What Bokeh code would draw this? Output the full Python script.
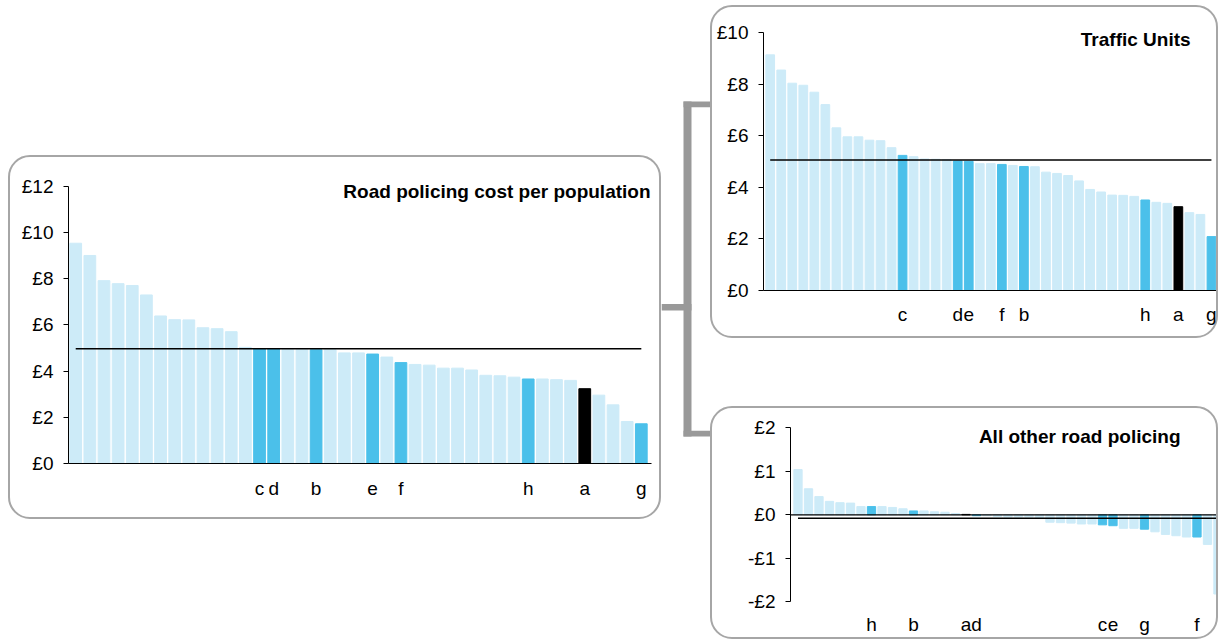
from bokeh.plotting import figure
from bokeh.models import ColumnDataSource, Range1d, FixedTicker, Label, Span
from bokeh.layouts import row, column
from bokeh.embed import file_html
from bokeh.resources import INLINE
from bokeh.core.properties import value

# ---------------- data ----------------
bar_index = list(range(1, 42))

cost_title = "Road policing cost per population"
cost_values = [9.54, 9.01, 7.92, 7.79, 7.71, 7.30, 6.39, 6.23, 6.22, 5.88,
               5.84, 5.71, 5.03, 4.96, 4.96, 4.93, 4.93, 4.93, 4.93, 4.79,
               4.79, 4.74, 4.61, 4.37, 4.29, 4.26, 4.13, 4.13, 4.05, 3.82,
               3.80, 3.74, 3.66, 3.66, 3.63, 3.60, 3.24, 2.96, 2.54, 1.82,
               1.72]
cost_labels = ["", "", "", "", "", "", "", "", "", "",
               "", "", "", "c", "d", "", "", "b", "", "",
               "", "e", "", "f", "", "", "", "", "", "",
               "", "", "h", "", "", "", "a", "", "", "",
               "g"]
cost_average = 4.97
cost_ticks = [0, 2, 4, 6, 8, 10, 12]
cost_tick_labels = ["£0", "£2", "£4", "£6", "£8", "£10", "£12"]

traffic_title = "Traffic Units"
traffic_values = [9.14, 8.55, 8.04, 7.96, 7.69, 7.21, 6.31, 5.96, 5.96, 5.83,
                  5.81, 5.54, 5.24, 5.19, 5.10, 5.09, 5.07, 5.02, 5.01, 4.92,
                  4.92, 4.89, 4.85, 4.81, 4.80, 4.59, 4.54, 4.46, 4.25, 3.92,
                  3.82, 3.70, 3.69, 3.65, 3.51, 3.42, 3.38, 3.25, 3.02, 2.95,
                  2.09]
traffic_labels = ["", "", "", "", "", "", "", "", "", "",
                  "", "", "c", "", "", "", "", "d", "e", "",
                  "", "f", "", "b", "", "", "", "", "", "",
                  "", "", "", "", "h", "", "", "a", "", "",
                  "g"]
traffic_average = 5.06
traffic_ticks = [0, 2, 4, 6, 8, 10]
traffic_tick_labels = ["£0", "£2", "£4", "£6", "£8", "£10"]

other_title = "All other road policing"
other_values = [1.04, 0.60, 0.42, 0.31, 0.28, 0.27, 0.19, 0.19, 0.19, 0.17,
                0.14, 0.09, 0.09, 0.07, 0.06, 0.03, 0.01, -0.02, -0.02, -0.04,
                -0.05, -0.05, -0.05, -0.06, -0.17, -0.18, -0.19, -0.21, -0.21, -0.23,
                -0.25, -0.31, -0.31, -0.33, -0.39, -0.45, -0.48, -0.51, -0.51, -0.68,
                -1.82]
other_labels = ["", "", "", "", "", "", "", "h", "", "",
                "", "b", "", "", "", "", "a", "d", "", "",
                "", "", "", "", "", "", "", "", "", "c",
                "e", "", "", "g", "", "", "", "", "f", "",
                ""]
other_average = -0.08
other_ticks = [-2, -1, 0, 1, 2]
other_tick_labels = ["-£2", "-£1", "£0", "£1", "£2"]

# ---------------- styles ----------------
LIGHT = "#cdebf8"
DARK = "#4bc0ea"
BLACK = "#000000"
FONT = "Liberation Sans"
FSIZE = "19px"
BOX_STYLE = {"border": "2px solid #a6a6a6", "border-radius": "22px"}


def bar_colors(labels):
    out = []
    for lab in labels:
        if lab == "":
            out.append(LIGHT)
        elif lab == "a":
            out.append(BLACK)
        else:
            out.append(DARK)
    return out


def make_chart(values, labels, average, ticks, tick_labels, title,
               width, height, margin, xr, yr, borders, bar_w,
               title_xy, x_axis_standoff=None, text_label_y=None):
    p = figure(width=width, height=height, output_backend="svg",
               toolbar_location=None, x_range=Range1d(*xr), y_range=Range1d(*yr),
               min_border_left=borders[0], min_border_right=borders[1],
               min_border_top=borders[2], min_border_bottom=borders[3],
               margin=margin, styles=BOX_STYLE)
    p.border_fill_color = None
    p.background_fill_color = None
    p.outline_line_color = None
    p.grid.visible = False

    src = ColumnDataSource(dict(x=bar_index, top=values, color=bar_colors(labels)))
    p.vbar(x="x", top="top", bottom=0, width=bar_w, color="color", source=src)
    p.line(x=[bar_index[0], bar_index[-1]], y=[average, average],
           line_color="black", line_width=1.6)

    ya = p.yaxis[0]
    ya.ticker = FixedTicker(ticks=ticks)
    ya.major_label_overrides = dict(zip(ticks, tick_labels))
    ya.bounds = (ticks[0], ticks[-1])
    ya.major_tick_out = 5
    ya.major_tick_in = 0
    ya.minor_tick_line_color = None
    ya.axis_line_color = "black"
    ya.major_tick_line_color = "black"
    ya.major_label_text_color = "black"
    ya.major_label_text_font = FONT
    ya.major_label_text_font_size = FSIZE
    ya.major_label_standoff = 10

    marked_x = [i for i, lab in zip(bar_index, labels) if lab]
    marked_t = [lab for lab in labels if lab]
    xa = p.xaxis[0]
    if x_axis_standoff is not None:
        xa.ticker = FixedTicker(ticks=marked_x)
        xa.major_label_overrides = dict(zip(marked_x, marked_t))
        xa.major_tick_out = 0
        xa.major_tick_in = 0
        xa.minor_tick_line_color = None
        xa.major_tick_line_color = None
        xa.axis_line_color = "black"
        xa.major_label_text_color = "black"
        xa.major_label_text_font = FONT
        xa.major_label_text_font_size = FSIZE
        xa.major_label_standoff = x_axis_standoff
    else:
        xa.visible = False
        p.add_layout(Span(location=0, dimension="width", line_color="black", line_width=1.3))
        p.text(x=marked_x, y=[text_label_y] * len(marked_x), text=marked_t,
               text_align="center", text_baseline="alphabetic",
               text_font=value(FONT), text_font_size=FSIZE, text_color="black")

    p.add_layout(Label(x=title_xy[0], y=title_xy[1], text=title, text_align="right",
                       text_baseline="alphabetic", text_font=FONT, text_font_size=FSIZE,
                       text_font_style="bold", text_color="black"))
    return p


cost = make_chart(cost_values, cost_labels, cost_average, cost_ticks, cost_tick_labels,
                  cost_title, width=653, height=364, margin=(155, 0, 0, 8),
                  xr=(0.49, 41.72), yr=(0, 12.3), borders=(58, 12, 22, 58), bar_w=0.83,
                  title_xy=(41.65, 11.76), x_axis_standoff=14)

traffic = make_chart(traffic_values, traffic_labels, traffic_average, traffic_ticks,
                     traffic_tick_labels, traffic_title, width=508, height=333,
                     margin=(5, 0, 0, 0), xr=(0.393, 41.64), yr=(0, 10.2),
                     borders=(51, 2, 20, 50), bar_w=0.79,
                     title_xy=(39.11, 9.72), x_axis_standoff=13)

other = make_chart(other_values, other_labels, other_average, other_ticks,
                   other_tick_labels, other_title, width=508, height=233,
                   margin=(68, 0, 0, 0), xr=(0.286, 41.05), yr=(-2.82, 2.1),
                   borders=(78, 2, 15, 4), bar_w=0.79,
                   title_xy=(37.43, 1.80), text_label_y=-2.52)

# connector between the panels (page pixel coordinates)
conn = figure(width=49, height=500, output_backend="svg", toolbar_location=None,
              x_range=Range1d(661, 710), y_range=Range1d(500, 0),
              x_axis_type=None, y_axis_type=None, min_border=0)
conn.outline_line_color = None
conn.border_fill_color = None
conn.background_fill_color = None
conn.grid.visible = False
conn.quad(left=[661, 683, 683, 683], right=[691, 691, 710, 710],
          top=[335, 94, 94, 486], bottom=[343, 493, 101, 493],
          fill_color="#999999", line_color=None)

layout = row(cost, conn, column(column(traffic), column(other)))

open("out.html", "w").write(file_html(layout, INLINE))
